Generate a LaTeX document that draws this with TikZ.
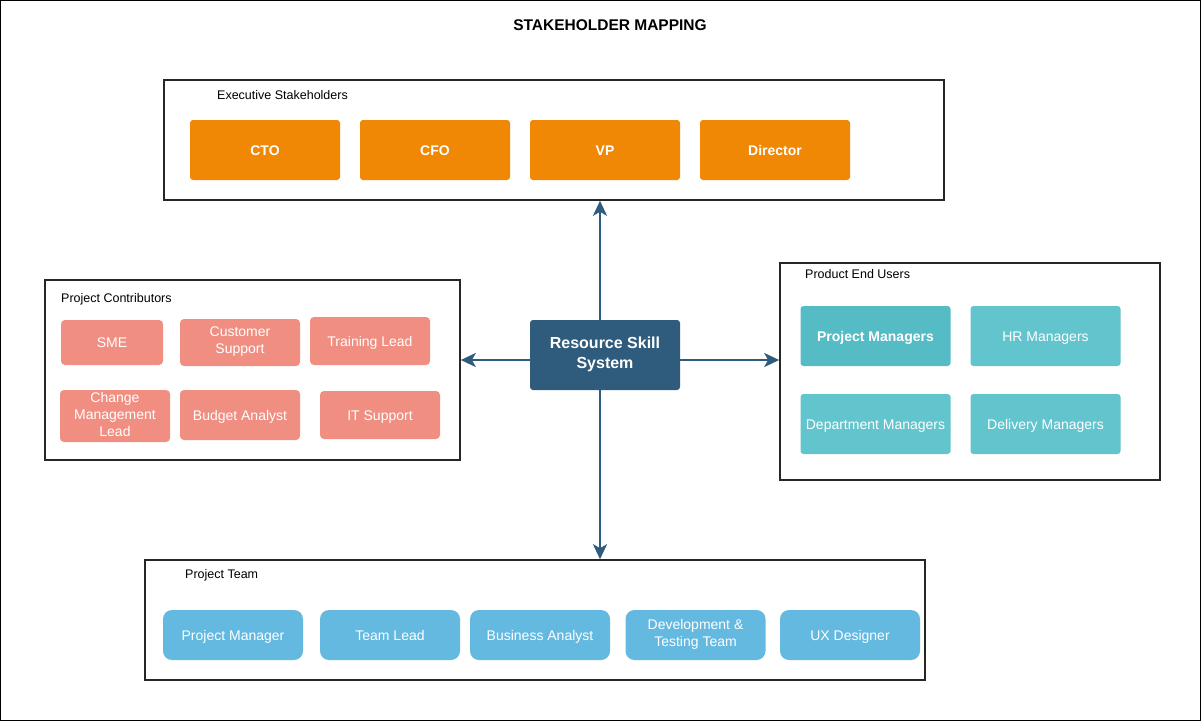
\documentclass[tikz,border=0pt]{standalone}
\usepackage{fontspec}
\setmainfont{Liberation Sans}
\usetikzlibrary{arrows.meta}
\definecolor{execorange}{HTML}{F08705}
\definecolor{contribred}{HTML}{F08E81}
\definecolor{userteal}{HTML}{62C4CC}
\definecolor{userdark}{HTML}{55BBC5}
\definecolor{teamblue}{HTML}{64B9E0}
\definecolor{coreblue}{HTML}{2F5B7C}
\begin{document}
\begin{tikzpicture}[
    x=1pt, y=-1pt,
    every node/.style={inner sep=1pt, align=center, text=white, font=\fontsize{14}{17}\selectfont},
    box/.style={execute at begin node=\rule{0pt}{14pt}, execute at end node=\rule[-4pt]{0pt}{4pt}},
    group/.style={draw=black!85, line width=1.6pt, fill=white, inner sep=0pt},
    grouplabel/.style={anchor=west, text=black, font=\fontsize{12.5}{15}\selectfont},
    exec/.style={box, fill=execorange, rounded corners=3pt, minimum width=150, minimum height=60, font=\bfseries\fontsize{14}{17}\selectfont},
    contrib/.style={box, fill=contribred, rounded corners=4pt, minimum width=120, minimum height=48},
    enduser/.style={box, fill=userteal, rounded corners=3pt, minimum width=150, minimum height=60},
    team/.style={box, fill=teamblue, rounded corners=9pt, minimum width=140, minimum height=50},
    link/.style={draw=coreblue, line width=2.8pt, -{Stealth[length=15pt, width=14pt, inset=4pt]}}
]
\useasboundingbox (0,0) rectangle (1201,721);
\draw[black, line width=0.8pt] (0.5,0.5) rectangle (1200.5,720.5);
\node[text=black, font=\bfseries\fontsize{15.5}{18}\selectfont] (title) at (610,25) {STAKEHOLDER MAPPING};

\node[group, minimum width=780, minimum height=120] (execbox) at (554,140) {};
\node[grouplabel] (execlabel) at (216,95) {Executive Stakeholders};
\node[exec] (cto) at (265,150) {CTO};
\node[exec] (cfo) at (435,150) {CFO};
\node[exec] (vp) at (605,150) {VP};
\node[exec] (director) at (775,150) {Director};

\node[group, minimum width=415, minimum height=180] (contribbox) at (252.5,370) {};
\node[grouplabel] (contriblabel) at (60,299) {Project Contributors};
\node[contrib, minimum width=102, minimum height=45] (sme) at (112,342.5) {SME};
\node[contrib, minimum height=47] (support) at (240,342.5) {Customer\\Support};
\node[contrib] (training) at (370,341) {Training Lead};
\node[contrib, minimum width=110, minimum height=52] (change) at (115,416) {Change\\Management\\Lead};
\node[contrib, minimum height=50] (budget) at (240,415) {Budget Analyst};
\node[contrib] (itsupport) at (380,415) {IT Support};

\node[box, fill=coreblue, rounded corners=3pt, minimum width=150, minimum height=70, font=\bfseries\fontsize{16}{20}\selectfont] (rss) at (605,355) {Resource Skill\\System};

\node[group, minimum width=380, minimum height=217] (userbox) at (970,371.5) {};
\node[grouplabel] (userlabel) at (804,274) {Product End Users};
\node[enduser, fill=userdark, font=\bfseries\fontsize{14}{17}\selectfont] (pms) at (875.5,336) {Project Managers};
\node[enduser] (hr) at (1045.5,336) {HR Managers};
\node[enduser] (dept) at (875.5,424) {Department Managers};
\node[enduser] (delivery) at (1045.5,424) {Delivery Managers};

\node[group, minimum width=780, minimum height=120] (teambox) at (535,620) {};
\node[grouplabel] (teamlabel) at (184,575) {Project Team};
\node[team] (pm) at (233,635) {Project Manager};
\node[team] (lead) at (390,635) {Team Lead};
\node[team] (analyst) at (540,635) {Business Analyst};
\node[team] (devtest) at (695.5,635) {Development \&\\Testing Team};
\node[team] (ux) at (850,635) {UX Designer};

\coordinate (axis) at (600,360);
\draw[link] (rss.north -| axis) -- (execbox.south -| axis);
\draw[link] (rss.south -| axis) -- (teambox.north -| axis);
\draw[link] (rss.west |- axis) -- (contribbox.east |- axis);
\draw[link] (rss.east |- axis) -- (userbox.west |- axis);
\end{tikzpicture}
\end{document}
